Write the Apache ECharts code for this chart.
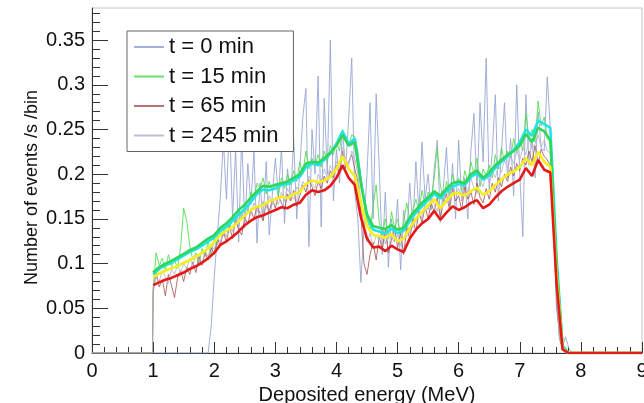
<!DOCTYPE html>
<html><head><meta charset="utf-8">
<script src="https://cdn.jsdelivr.net/npm/echarts@6/dist/echarts.min.js"></script>
<style>html,body{margin:0;padding:0;background:#fff}#c{width:644px;height:403px}</style>
</head><body><div id="c"></div>
<script>
const X_TICKS = [0,1,2,3,4,5,6,7,8,9];
const Y_TICKS = [0,0.05,0.1,0.15,0.2,0.25,0.3,0.35];
const Y_MINOR_TICKS = [0.01,0.02,0.03,0.04,0.06,0.07,0.08,0.09,0.11,0.12,0.13,0.14,0.16,0.17,0.18,0.19,0.21,0.22,0.23,0.24,0.26,0.27,0.28,0.29,0.31,0.32,0.33,0.34,0.36,0.37,0.38];
const LEGEND_NAMES = ['t = 0 min','t = 15 min','t = 65 min','t = 245 min'];

// raw spectra, 0.05 MeV bins from 1.00 to 8.00 MeV
const THIN_E0 = 1.00, THIN_STEP = 0.05;
const T0 = [
0,0,0,0,0,0,0,0,0,0,
0,0,0,0,0,0,0,0,0,0.030,
0.085,0.130,0.175,0.238,0.172,0.262,0.150,0.228,0.124,0.246,
0.140,0.212,0.166,0.226,0.123,0.190,0.148,0.214,0.132,0.176,
0.218,0.176,0.230,0.145,0.206,0.172,0.240,0.150,0.205,0.264,
0.296,0.119,0.250,0.200,0.310,0.141,0.285,0.200,0.350,0.170,
0.228,0.190,0.248,0.206,0.262,0.330,0.180,0.150,0.079,0.140,
0.200,0.280,0.150,0.290,0.208,0.110,0.180,0.096,0.150,0.125,
0.172,0.093,0.160,0.130,0.190,0.140,0.214,0.158,0.236,0.172,
0.200,0.160,0.206,0.238,0.146,0.186,0.230,0.164,0.212,0.150,
0.238,0.170,0.196,0.150,0.226,0.268,0.180,0.280,0.214,0.330,
0.182,0.226,0.289,0.170,0.225,0.280,0.196,0.240,0.176,0.300,
0.200,0.130,0.289,0.210,0.240,0.196,0.270,0.230,0.226,0.309,
0.250,0.170,0.050,0.026,0.008,0.018,0.006,0,0,0,
0];
const T15 = [
0.070,0.112,0.098,0.106,0.092,0.110,0.097,0.104,0.095,0.118,
0.162,0.148,0.120,0.104,0.112,0.098,0.117,0.108,0.125,0.110,
0.128,0.121,0.138,0.131,0.146,0.139,0.152,0.144,0.160,0.150,
0.168,0.158,0.180,0.172,0.190,0.184,0.196,0.178,0.192,0.182,
0.190,0.176,0.196,0.184,0.200,0.188,0.204,0.192,0.214,0.200,
0.226,0.206,0.218,0.210,0.222,0.208,0.226,0.214,0.232,0.222,
0.236,0.226,0.250,0.238,0.232,0.244,0.242,0.226,0.196,0.172,
0.150,0.138,0.164,0.188,0.146,0.132,0.150,0.128,0.158,0.140,
0.150,0.132,0.146,0.168,0.150,0.160,0.172,0.158,0.182,0.166,
0.180,0.172,0.196,0.230,0.188,0.170,0.192,0.178,0.200,0.188,
0.196,0.182,0.204,0.192,0.214,0.200,0.218,0.186,0.206,0.198,
0.210,0.196,0.222,0.206,0.230,0.214,0.226,0.218,0.240,0.224,
0.238,0.226,0.268,0.240,0.250,0.236,0.282,0.254,0.264,0.240,
0.236,0.160,0.070,0.020,0.004,0,0,0,0,0,
0];
const T65 = [
0.068,0.090,0.074,0.082,0.064,0.088,0.076,0.062,0.084,0.092,
0.080,0.096,0.088,0.102,0.090,0.108,0.098,0.112,0.104,0.118,
0.110,0.128,0.120,0.136,0.124,0.142,0.128,0.150,0.138,0.132,
0.152,0.144,0.160,0.150,0.164,0.156,0.148,0.168,0.158,0.172,
0.162,0.176,0.168,0.160,0.178,0.170,0.182,0.164,0.176,0.188,
0.180,0.194,0.186,0.176,0.192,0.184,0.198,0.190,0.204,0.196,
0.210,0.200,0.226,0.208,0.214,0.222,0.206,0.192,0.158,0.100,
0.088,0.110,0.124,0.104,0.130,0.116,0.138,0.112,0.126,0.142,
0.118,0.134,0.110,0.140,0.128,0.150,0.136,0.158,0.146,0.164,
0.150,0.168,0.158,0.174,0.152,0.168,0.178,0.160,0.184,0.170,
0.176,0.160,0.186,0.172,0.180,0.166,0.190,0.174,0.168,0.184,
0.172,0.190,0.180,0.196,0.186,0.200,0.192,0.208,0.198,0.212,
0.204,0.218,0.210,0.226,0.214,0.232,0.212,0.228,0.220,0.216,
0.210,0.150,0.060,0.016,0.004,0,0,0,0,0,
0];
const T245 = [
0.074,0.084,0.080,0.092,0.086,0.078,0.094,0.088,0.098,0.090,
0.100,0.094,0.106,0.098,0.110,0.104,0.100,0.114,0.108,0.120,
0.116,0.130,0.124,0.138,0.130,0.144,0.136,0.150,0.142,0.156,
0.148,0.162,0.154,0.168,0.160,0.152,0.170,0.162,0.176,0.166,
0.174,0.166,0.180,0.170,0.184,0.176,0.172,0.186,0.180,0.192,
0.186,0.198,0.190,0.184,0.200,0.192,0.206,0.196,0.210,0.202,
0.214,0.206,0.230,0.216,0.210,0.226,0.218,0.200,0.172,0.138,
0.124,0.134,0.118,0.132,0.126,0.140,0.122,0.136,0.130,0.124,
0.132,0.120,0.138,0.146,0.134,0.154,0.146,0.160,0.150,0.168,
0.160,0.174,0.166,0.158,0.176,0.168,0.182,0.174,0.188,0.178,
0.184,0.174,0.192,0.180,0.196,0.184,0.178,0.194,0.186,0.200,
0.190,0.204,0.196,0.210,0.202,0.216,0.206,0.220,0.212,0.226,
0.216,0.230,0.222,0.240,0.228,0.234,0.244,0.230,0.238,0.226,
0.224,0.164,0.066,0.018,0.005,0,0,0,0,0,
0];

// smoothed spectra, 0.1 MeV bins from 1.0 to 7.7 MeV
const THICK_E0 = 1.0, THICK_STEP = 0.1;
const SM_CYAN = [
0.088,0.094,0.098,0.101,0.105,0.109,0.113,0.116,0.120,0.125,
0.129,0.137,0.141,0.148,0.155,0.161,0.169,0.178,0.183,0.182,
0.184,0.188,0.189,0.193,0.197,0.208,0.212,0.210,0.216,0.223,
0.234,0.248,0.234,0.240,0.192,0.152,0.138,0.136,0.134,0.139,
0.134,0.137,0.148,0.157,0.164,0.171,0.178,0.173,0.181,0.186,
0.189,0.188,0.197,0.201,0.194,0.199,0.207,0.214,0.220,0.227,
0.236,0.250,0.243,0.260,0.256,0.252,0.110,0.008];
const SM_GREEN = [
0.090,0.096,0.100,0.103,0.107,0.111,0.115,0.118,0.123,0.128,
0.132,0.140,0.145,0.152,0.160,0.166,0.174,0.181,0.187,0.186,
0.188,0.190,0.192,0.196,0.200,0.212,0.214,0.213,0.218,0.224,
0.232,0.244,0.232,0.236,0.190,0.155,0.142,0.140,0.139,0.143,
0.138,0.140,0.152,0.160,0.168,0.174,0.181,0.176,0.184,0.190,
0.192,0.190,0.200,0.204,0.196,0.202,0.210,0.216,0.222,0.226,
0.232,0.245,0.236,0.252,0.248,0.238,0.100,0.006];
const SM_YELLOW = [
0.085,0.089,0.092,0.095,0.097,0.101,0.104,0.108,0.112,0.117,
0.124,0.132,0.137,0.141,0.147,0.154,0.160,0.164,0.165,0.170,
0.172,0.175,0.173,0.178,0.180,0.189,0.193,0.191,0.193,0.197,
0.206,0.220,0.206,0.198,0.168,0.142,0.132,0.131,0.129,0.133,
0.125,0.128,0.140,0.150,0.158,0.165,0.172,0.162,0.170,0.178,
0.179,0.176,0.181,0.185,0.177,0.181,0.188,0.194,0.200,0.203,
0.208,0.218,0.210,0.225,0.214,0.208,0.090,0.005];
const SM_RED = [
0.076,0.079,0.082,0.084,0.087,0.090,0.094,0.097,0.101,0.106,
0.112,0.121,0.125,0.130,0.136,0.143,0.148,0.152,0.154,0.157,
0.160,0.163,0.162,0.166,0.168,0.177,0.182,0.180,0.182,0.187,
0.196,0.210,0.196,0.188,0.152,0.128,0.118,0.119,0.114,0.120,
0.116,0.113,0.128,0.138,0.145,0.150,0.159,0.149,0.157,0.164,
0.160,0.163,0.168,0.171,0.162,0.166,0.174,0.181,0.186,0.190,
0.194,0.207,0.198,0.216,0.205,0.202,0.080,0.004];

// empty (zero-count) bins outside the measured ranges
const ZERO_LEFT_THIN_E = [0, 0.99];
const ZERO_LEFT_THICK_E = [];
const ZERO_RIGHT_THIN_E = [9];
const ZERO_RIGHT_THICK_E = [7.8, 9];

function pairs(head, e0, step, vals, tail) {
  const out = head.map(e => [e, 0]);
  vals.forEach((v, i) => out.push([Math.round((e0 + i * step) * 1000) / 1000, v]));
  tail.forEach(e => out.push([e, 0]));
  return out;
}

const FONT = 'Liberation Sans, Arial, Helvetica, sans-serif';
const YMAX = 0.386;

function thin(name, vals, color) {
  return { name, type: 'line', data: pairs(ZERO_LEFT_THIN_E, THIN_E0, THIN_STEP, vals, ZERO_RIGHT_THIN_E),
    showSymbol: false, symbol: 'none', lineStyle: { width: 1, color, opacity: 0.85 }, itemStyle: { color },
    z: 2, silent: true };
}
function thick(name, vals, color) {
  return { name, type: 'line', data: pairs(ZERO_LEFT_THICK_E, THICK_E0, THICK_STEP, vals, ZERO_RIGHT_THICK_E),
    showSymbol: false, symbol: 'none', lineStyle: { width: 2.6, color }, itemStyle: { color },
    z: 3, silent: true };
}

const chart = echarts.init(document.getElementById('c'), null, { renderer: 'canvas' });
chart.setOption({
  animation: false,
  backgroundColor: '#fff',
  grid: { left: 92, right: 2, top: 8, bottom: 50, show: true, borderColor: '#c4c4c4', borderWidth: 1,
    containLabel: false, outerBoundsMode: 'none' },
  legend: {
    data: LEGEND_NAMES, orient: 'vertical', left: 127, top: 31,
    backgroundColor: '#fff', borderColor: '#666', borderWidth: 1,
    padding: [5, 15, 5, 6], itemWidth: 30, itemHeight: 10, itemGap: 7.5,
    itemStyle: { opacity: 0 },
    textStyle: { fontSize: 22, fontFamily: FONT, color: '#111', lineHeight: 22 }
  },
  xAxis: {
    type: 'value', min: 0, max: 9, interval: 1,
    name: 'Deposited energy (MeV)', nameLocation: 'middle', nameGap: 31,
    nameTextStyle: { fontSize: 20, fontFamily: FONT, color: '#111' },
    axisLine: { lineStyle: { color: '#333', width: 1 } },
    axisTick: { inside: true, length: 11, lineStyle: { color: '#333' } },
    minorTick: { show: true, splitNumber: 5, length: 6, lineStyle: { color: '#333' } },
    axisLabel: { fontSize: 20, fontFamily: FONT, color: '#111', margin: 8,
      customValues: X_TICKS },
    splitLine: { show: false }
  },
  yAxis: [{
    type: 'value', min: 0, max: YMAX,
    name: 'Number of events /s /bin', nameLocation: 'middle', nameGap: 51, nameRotate: 90,
    nameMoveOverlap: false,
    nameTextStyle: { fontSize: 18, fontFamily: FONT, color: '#111', padding: [0, 14, 0, 0] },
    axisLine: { show: true, lineStyle: { color: '#333', width: 1 } },
    axisTick: { show: true, inside: true, length: 16, customValues: Y_TICKS, lineStyle: { color: '#333' } },
    axisLabel: { fontSize: 20, fontFamily: FONT, color: '#111', margin: 7, customValues: Y_TICKS },
    splitLine: { show: false }
  }, {
    type: 'value', min: 0, max: YMAX, position: 'left',
    axisLine: { show: false },
    axisTick: { show: true, inside: true, length: 8, customValues: Y_MINOR_TICKS, lineStyle: { color: '#333' } },
    axisLabel: { show: false },
    splitLine: { show: false }
  }],
  series: [
    thin('t = 0 min', T0, '#93a2d2'),
    thin('t = 15 min', T15, '#4fdc4f'),
    thin('t = 65 min', T65, '#a85a5a'),
    thin('t = 245 min', T245, '#b4b4d0'),
    thick('smooth cyan', SM_CYAN, '#1fe4e8'),
    thick('smooth green', SM_GREEN, '#2ed65c'),
    thick('smooth yellow', SM_YELLOW, '#f4ee1c'),
    thick('smooth red', SM_RED, '#e41a1a')
  ]
});
</script></body></html>
